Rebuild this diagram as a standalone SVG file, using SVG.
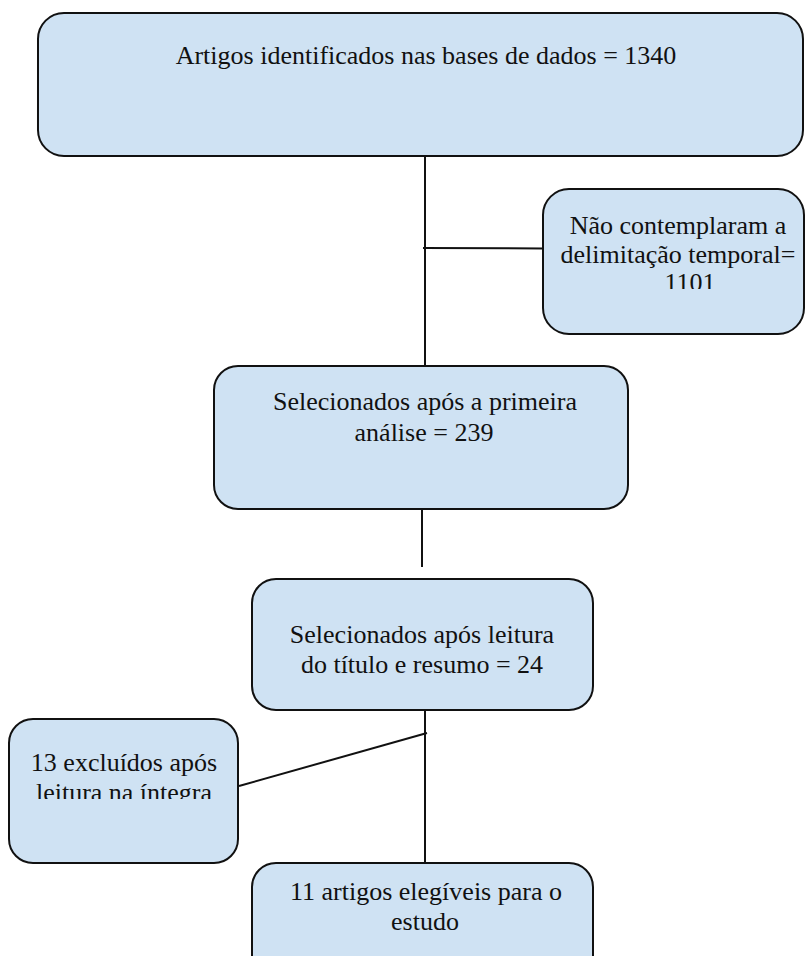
<svg xmlns="http://www.w3.org/2000/svg" width="805" height="956" viewBox="0 0 805 956">
<style>
.box{fill:#cfe2f3;stroke:#111;stroke-width:2}
.t{font-family:"Liberation Serif","Times New Roman",serif;font-size:26px;fill:#111;text-anchor:middle}
.c{stroke:#111;stroke-width:2;fill:none}
</style>
<defs>
<clipPath id="clip2"><rect x="543" y="189" width="262" height="100"/></clipPath>
<clipPath id="clip5"><rect x="9" y="719" width="229" height="80"/></clipPath>
</defs>
<rect width="805" height="956" fill="#fff"/>
<g id="connectors">
<line class="c" x1="425" y1="156" x2="425" y2="366"/>
<line class="c" x1="423" y1="248" x2="543" y2="248.5"/>
<line class="c" x1="422" y1="510" x2="422" y2="567"/>
<line class="c" x1="425" y1="707" x2="425" y2="863"/>
<line class="c" x1="427" y1="733" x2="239" y2="786"/>
</g>
<g id="n1">
<rect class="box" x="38" y="13" width="765" height="143" rx="26"/>
<text class="t" x="426" y="64">Artigos identificados nas bases de dados = 1340</text>
</g>
<g id="n2">
<rect class="box" x="543" y="189" width="261" height="145" rx="26"/>
<g clip-path="url(#clip2)">
<text class="t" x="678" y="234">Não contemplaram a</text>
<text class="t" x="678" y="263">delimitação temporal=</text>
<text class="t" x="690" y="291">1101</text>
</g>
</g>
<g id="n3">
<rect class="box" x="214" y="366" width="414" height="143" rx="24"/>
<text class="t" x="425" y="410">Selecionados após a primeira</text>
<text class="t" x="424" y="441">análise = 239</text>
</g>
<g id="n4">
<rect class="box" x="252" y="579" width="341" height="131" rx="24"/>
<text class="t" x="422" y="643">Selecionados após leitura</text>
<text class="t" x="422" y="673">do título e resumo = 24</text>
</g>
<g id="n5">
<rect class="box" x="9" y="719" width="229" height="144" rx="24"/>
<g clip-path="url(#clip5)">
<text class="t" x="124" y="771">13 excluídos após</text>
<text class="t" x="124" y="801">leitura na íntegra</text>
</g>
</g>
<g id="n6">
<rect class="box" x="252" y="863" width="341" height="130" rx="24"/>
<text class="t" x="426" y="900">11 artigos elegíveis para o</text>
<text class="t" x="425" y="930">estudo</text>
</g>
</svg>
